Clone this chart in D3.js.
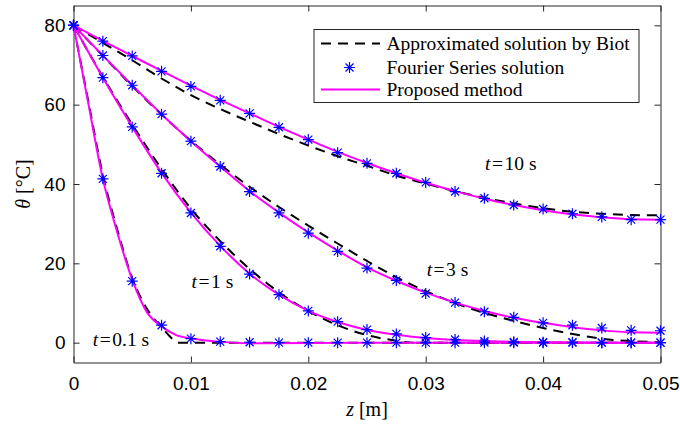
<!DOCTYPE html>
<html>
<head>
<meta charset="utf-8">
<script src="https://cdn.jsdelivr.net/npm/d3@7/dist/d3.min.js"></script>
<style>
body { margin: 0; background: #fff; }
</style>
</head>
<body>
<div id="chart"></div>
<script>
// z positions of the Fourier markers [m]
var zGrid = [0, 0.0025, 0.005, 0.0075, 0.01, 0.0125, 0.015, 0.0175, 0.02, 0.0225, 0.025,
             0.0275, 0.03, 0.0325, 0.035, 0.0375, 0.04, 0.0425, 0.045, 0.0475, 0.05];

// Fourier series solution (blue stars)
var fourier01 = [80, 41.3, 15.5, 4.4, 1.0, 0.25, 0.1, 0, 0, 0, 0, 0, 0, 0, 0, 0, 0, 0, 0, 0, 0];
var fourier1  = [80, 66.8, 54.4, 42.7, 32.7, 24.3, 17.3, 12.1, 8.0, 5.3, 3.3, 2.2, 1.3, 0.8, 0.4, 0.2, 0.1, 0.1, 0, 0, 0];
var fourier3  = [80, 72.4, 64.9, 57.6, 50.8, 44.4, 38.1, 32.7, 27.6, 23.0, 18.8, 15.7, 12.4, 10.1, 7.8, 6.4, 5.0, 4.4, 3.7, 3.1, 3.0];
var fourier10 = [80, 76.0, 72.3, 68.4, 64.6, 61.1, 57.8, 54.3, 51.2, 47.9, 45.2, 42.7, 40.4, 38.1, 36.4, 34.7, 33.7, 32.5, 31.7, 31.0, 31.0];

// proposed method (magenta)
var prop01Z = [0, 0.00125, 0.0025, 0.00375, 0.005, 0.00625, 0.0075, 0.00875, 0.01, 0.0125, 0.015, 0.02, 0.03, 0.05];
var prop01  = [80, 60.5, 41.3, 27.6, 15.9, 7.7, 4.1, 1.9, 1.1, 0.2, -0.15, -0.1, 0, 0];
var prop1   = [80, 66.8, 54.4, 42.8, 32.8, 24.4, 17.4, 12.1, 8.0, 5.2, 3.2, 2.0, 1.2, 0.7, 0.4, 0.2, 0.1, 0.05, 0, 0, 0];
var prop3   = [80, 72.4, 64.9, 57.6, 50.8, 44.4, 38.2, 32.8, 27.8, 23.2, 19.0, 15.6, 12.6, 10.1, 8.0, 6.3, 5.0, 3.9, 3.1, 2.6, 2.5];
var prop10  = [80, 76.1, 72.3, 68.5, 64.8, 61.2, 57.8, 54.4, 51.2, 48.1, 45.3, 42.7, 40.3, 38.2, 36.3, 34.7, 33.4, 32.4, 31.6, 31.1, 31.0];

// approximated solution by Biot (black dashed)
var biot01Z = [0, 0.00125, 0.0025, 0.00375, 0.005, 0.0065, 0.0075, 0.0085, 0.009, 0.05];
var biot01  = [80, 61, 42.3, 28.3, 16.3, 7.4, 3.9, 0.8, 0, 0];
var biot1Z  = [0, 0.0025, 0.005, 0.0075, 0.01, 0.0125, 0.015, 0.0175, 0.02, 0.0225, 0.025, 0.0275, 0.029, 0.05];
var biot1   = [80, 67.0, 55.0, 43.8, 33.8, 25.6, 18.6, 12.7, 8.0, 4.4, 1.9, 0.5, 0, 0];
var biot3   = [80, 72.3, 64.7, 57.5, 50.9, 44.9, 39.3, 34.2, 29.5, 25.0, 20.6, 16.5, 13.0, 10.0, 7.5, 5.5, 3.7, 2.2, 1.0, 0.4, 0.1];
var biot10  = [80, 75.6, 71.2, 66.6, 62.4, 58.9, 55.7, 52.6, 49.7, 47.0, 44.6, 42.1, 40.1, 38.2, 36.5, 35.1, 33.9, 33.0, 32.5, 32.2, 32.1];

var xTicks = [0, 0.01, 0.02, 0.03, 0.04, 0.05];
var xTickLabels = ["0", "0.01", "0.02", "0.03", "0.04", "0.05"];
var yTicks = [0, 20, 40, 60, 80];

// time labels, placed at [z, theta]
var timeLabels = [["0.1", 0.00165, -0.9], ["1", 0.01006, 13.7], ["3", 0.03008, 16.8], ["10", 0.03506, 43.6]];

var legendLabels = ["Approximated solution by Biot", "Fourier Series solution", "Proposed method"];

var w = 680, h = 427;
var margin = {top: 5.5, right: 19.5, bottom: 64.5, left: 73.5};

var svg = d3.select("#chart").append("svg")
    .attr("width", w)
    .attr("height", h);

var x = d3.scaleLinear().domain([0, 0.05]).range([margin.left, w - margin.right]);
var y = d3.scaleLinear().domain([-5, 85]).range([h - margin.bottom, margin.top]);

var axisColor = "#262626";
var tickFont = "'Liberation Sans', Arial, sans-serif";
var serif = "'Liberation Serif', 'Times New Roman', serif";

// axes, MATLAB style: ticks point inwards, box all round
var gx = svg.append("g")
    .attr("transform", "translate(0," + (h - margin.bottom) + ")")
    .call(d3.axisBottom(x).tickValues(xTicks).tickSize(-6).tickSizeOuter(0).tickPadding(14)
        .tickFormat(function(d, i){ return xTickLabels[i]; }));
var gy = svg.append("g")
    .attr("transform", "translate(" + margin.left + ",0)")
    .call(d3.axisLeft(y).tickValues(yTicks).tickSize(-6).tickSizeOuter(0).tickPadding(8));
var gxTop = svg.append("g")
    .attr("transform", "translate(0," + margin.top + ")")
    .call(d3.axisTop(x).tickValues(xTicks).tickSize(-6).tickSizeOuter(0).tickFormat(""));
var gyRight = svg.append("g")
    .attr("transform", "translate(" + (w - margin.right) + ",0)")
    .call(d3.axisRight(y).tickValues(yTicks).tickSize(-6).tickSizeOuter(0).tickFormat(""));

[gx, gy, gxTop, gyRight].forEach(function(g){
    g.selectAll("path, line").attr("stroke", axisColor).attr("stroke-width", 1);
    g.selectAll("text").attr("fill", "#000").style("font-family", tickFont).style("font-size", "19px");
});

function line(zs)
{
    return d3.line()
        .x(function(d, i){ return x(zs[i]); })
        .y(function(d){ return y(d); })
        .curve(d3.curveMonotoneX);
}

// Biot dashed curves
var biotSets = [[biot01Z, biot01], [biot1Z, biot1], [zGrid, biot3], [zGrid, biot10]];
svg.append("g").selectAll("path")
    .data(biotSets)
    .enter()
    .append("path")
    .attr("d", function(d){ return line(d[0])(d[1]); })
    .attr("fill", "none")
    .attr("stroke", "#000")
    .attr("stroke-width", 2)
    .attr("stroke-dasharray", "10,7");

// proposed method
var propSets = [[prop01Z, prop01], [zGrid, prop1], [zGrid, prop3], [zGrid, prop10]];
svg.append("g").selectAll("path")
    .data(propSets)
    .enter()
    .append("path")
    .attr("d", function(d){ return line(d[0])(d[1]); })
    .attr("fill", "none")
    .attr("stroke", "#ff00ff")
    .attr("stroke-width", 2);

// Fourier stars
var r = 5.5, k = 4;
var starPath = "M" + (-r) + ",0L" + r + ",0M0," + (-r) + "L0," + r +
               "M" + (-k) + "," + (-k) + "L" + k + "," + k + "M" + (-k) + "," + k + "L" + k + "," + (-k);
var stars = [];
[fourier01, fourier1, fourier3, fourier10].forEach(function(s){
    s.forEach(function(v, i){ stars.push([zGrid[i], v]); });
});
svg.append("g").selectAll("path")
    .data(stars)
    .enter()
    .append("path")
    .attr("transform", function(d){ return "translate(" + x(d[0]) + "," + y(d[1]) + ")"; })
    .attr("d", starPath)
    .attr("fill", "none")
    .attr("stroke", "#0000ff")
    .attr("stroke-width", 1.2);

// time labels
var tl = svg.append("g").selectAll("text")
    .data(timeLabels)
    .enter()
    .append("text")
    .attr("x", function(d){ return x(d[1]); })
    .attr("y", function(d){ return y(d[2]); })
    .style("font-family", serif)
    .style("font-size", "19.5px");
tl.append("tspan").attr("font-style", "italic").text("t");
tl.append("tspan").attr("dx", 1.5).text("=");
tl.append("tspan").attr("dx", 1.5).text(function(d){ return d[0] + " s"; });

// axis labels
var xl = svg.append("text")
    .attr("x", (margin.left + w - margin.right) / 2)
    .attr("y", 416)
    .attr("text-anchor", "middle")
    .style("font-family", serif)
    .style("font-size", "20px");
xl.append("tspan").attr("font-style", "italic").text("z");
xl.append("tspan").text(" [m]");

var yl = svg.append("text")
    .attr("transform", "translate(30," + ((margin.top + h - margin.bottom) / 2) + ") rotate(-90)")
    .attr("text-anchor", "middle")
    .style("font-family", serif)
    .style("font-size", "20px");
yl.append("tspan").attr("font-style", "italic").text("θ");
yl.append("tspan").text(" [°C]");

// legend
var lg = svg.append("g").attr("transform", "translate(314,29.5)");
lg.append("rect")
    .attr("width", 325)
    .attr("height", 73)
    .attr("fill", "#fff")
    .attr("stroke", axisColor)
    .attr("stroke-width", 1);
var rowY = [14, 38, 60];
lg.append("line").attr("x1", 7).attr("x2", 66).attr("y1", rowY[0]).attr("y2", rowY[0])
    .attr("stroke", "#000").attr("stroke-width", 2).attr("stroke-dasharray", "10,7");
lg.append("path").attr("transform", "translate(35.5," + rowY[1] + ")").attr("d", starPath)
    .attr("fill", "none").attr("stroke", "#0000ff").attr("stroke-width", 1.2);
lg.append("line").attr("x1", 7).attr("x2", 66).attr("y1", rowY[2]).attr("y2", rowY[2])
    .attr("stroke", "#ff00ff").attr("stroke-width", 2);
lg.selectAll("text.lab")
    .data(legendLabels)
    .enter()
    .append("text")
    .attr("class", "lab")
    .attr("x", 72.5)
    .attr("y", function(d, i){ return rowY[i] + 6.5; })
    .style("font-family", serif)
    .style("font-size", "19.5px")
    .text(function(d){ return d; });
</script>
</body>
</html>
